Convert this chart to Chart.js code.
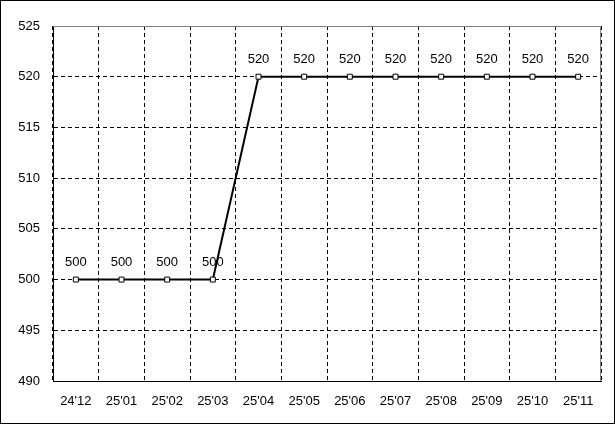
<!DOCTYPE html>
<html>
<head>
<meta charset="utf-8">
<script src="https://cdn.jsdelivr.net/npm/chart.js@4"></script>
<style>
  html, body { margin: 0; padding: 0; background: #fff; }
  #wrap { width: 615px; height: 424px; }
</style>
</head>
<body>
<div id="wrap"><canvas id="mainChart" width="615" height="424"></canvas></div>
<script>
var months = ["24'12", "25'01", "25'02", "25'03", "25'04", "25'05", "25'06", "25'07", "25'08", "25'09", "25'10", "25'11"];
var values = [500, 500, 500, 500, 520, 520, 520, 520, 520, 520, 520, 520];
var yMin = 490, yMax = 525, yStep = 5;

var fontFam = "'Liberation Sans', Arial, sans-serif";

// frame around the whole picture + gray top/right of plot
var framePlugin = {
  id: 'frame',
  beforeDatasetsDraw: function(chart) {
    var ctx = chart.ctx, a = chart.chartArea;
    ctx.save();
    ctx.strokeStyle = '#808080';
    ctx.lineWidth = 1;
    ctx.beginPath();
    ctx.moveTo(a.left, a.top + 0.5);
    ctx.lineTo(a.right - 0.5, a.top + 0.5);
    ctx.lineTo(a.right - 0.5, a.bottom);
    ctx.stroke();
    ctx.restore();
  },
  afterDraw: function(chart) {
    var ctx = chart.ctx;
    ctx.save();
    ctx.strokeStyle = '#000';
    ctx.lineWidth = 1;
    ctx.strokeRect(0.5, 0.5, chart.width - 1, chart.height - 1);
    ctx.restore();
  }
};

// value labels above each point
var labelPlugin = {
  id: 'valueLabels',
  afterDatasetsDraw: function(chart) {
    var ctx = chart.ctx;
    var meta = chart.getDatasetMeta(0);
    ctx.save();
    ctx.fillStyle = '#000';
    ctx.font = '13px ' + fontFam;
    ctx.textAlign = 'center';
    ctx.textBaseline = 'middle';
    meta.data.forEach(function(pt, i) {
      ctx.fillText(String(values[i]), pt.x, pt.y - 17);
    });
    ctx.restore();
  }
};

var chartdata = {
  labels: months,
  datasets: [{
    data: values,
    borderColor: '#000',
    backgroundColor: '#fff',
    borderWidth: 2,
    lineTension: 0,
    fill: false,
    pointStyle: 'rect',
    radius: 3.5,
    pointBorderWidth: 1,
    pointBorderColor: '#000',
    pointBackgroundColor: '#fff'
  }]
};

var myChart = new Chart(document.getElementById('mainChart'), {
  type: 'line',
  data: chartdata,
  plugins: [framePlugin, labelPlugin],
  options: {
    responsive: false,
    animation: false,
    devicePixelRatio: 1,
    layout: { padding: { left: 0, top: 26, right: 14, bottom: 0 } },
    plugins: { legend: { display: false }, tooltip: { enabled: false } },
    scales: {
      x: {
        offset: true,
        grid: {
          offset: true,
          color: function(c) { return c.index >= months.length ? 'rgba(0,0,0,0)' : '#000'; },
          drawTicks: false
        },
        border: { display: true, color: '#000', width: 1, dash: [4, 3] },
        ticks: {
          color: '#000',
          padding: 13,
          maxRotation: 0,
          autoSkip: false,
          font: { family: fontFam, size: 13 }
        },
        afterFit: function(s) { s.height = 43; }
      },
      y: {
        min: yMin,
        max: yMax,
        grid: {
          color: function(c) { return c.tick && c.tick.value === yMax ? 'rgba(0,0,0,0)' : '#000'; },
          drawTicks: false
        },
        border: { display: true, color: '#000', width: 1, dash: [4, 3] },
        ticks: {
          stepSize: yStep,
          color: '#000',
          padding: 13,
          font: { family: fontFam, size: 13 }
        },
        afterFit: function(s) { s.width = 53; }
      }
    }
  }
});
</script>
</body>
</html>
